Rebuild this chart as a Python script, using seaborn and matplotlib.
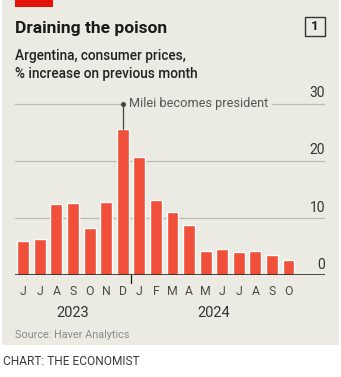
import matplotlib
matplotlib.use("Agg")
import matplotlib.pyplot as plt
import seaborn as sns
import pandas as pd
from matplotlib.patches import Rectangle

# Argentina, monthly consumer-price inflation, June 2023 - October 2024
months = ["J", "J", "A", "S", "O", "N", "D", "J", "F", "M", "A", "M", "J", "J", "A", "S", "O"]
inflation = [6.0, 6.3, 12.4, 12.7, 8.3, 12.8, 25.5, 20.6, 13.2, 11.0, 8.8, 4.2, 4.6, 4.0, 4.2, 3.5, 2.7]
years = ["2023", "2024"]
year_positions = [3, 11.5]
year_break = 6.5
y_ticks = [0, 10, 20, 30]
event_label = "Milei becomes president"
event_index = 6

W, H = 341, 377
BG = "#ECEBE3"
RED = "#F0503A"
GRID = "#BCBCB4"
INK = "#1A1A1A"
LABEL = "#4A4A4A"

sns.set_theme(style="white")
plt.rcParams["font.family"] = ["Roboto", "DejaVu Sans"]


def fx(px):
    return px / W


def fy(py):
    return 1 - py / H


fig = plt.figure(figsize=(W / 100, H / 100), dpi=100)
fig.patch.set_facecolor("white")

# beige panel and red flag
fig.patches.append(Rectangle((fx(2), fy(345)), fx(337), 345 / H, transform=fig.transFigure,
                             facecolor=BG, edgecolor="none", zorder=-10))
fig.patches.append(Rectangle((fx(15), fy(7)), fx(37.5), 7 / H, transform=fig.transFigure,
                             facecolor="#E3120B", edgecolor="none", zorder=-5))

# chart number box
fig.patches.append(Rectangle((fx(304.5), fy(36)), fx(20.5), 18.5 / H, transform=fig.transFigure,
                             facecolor="none", edgecolor="#333333", lw=1.0, zorder=2))
fig.text(fx(314.8), fy(27), "1", ha="center", va="center", fontsize=9.5,
         fontweight="bold", color=INK)

fig.text(fx(15), fy(28), "Draining the poison", ha="left", va="center",
         fontsize=12.5, fontweight="bold", color=INK)
fig.text(fx(15), fy(56), "Argentina, consumer prices,", ha="left", va="center",
         fontsize=9.8, fontweight="medium", color="#222222")
fig.text(fx(15), fy(74), "% increase on previous month", ha="left", va="center",
         fontsize=9.8, fontweight="medium", color="#222222")

# plot area
px_per_unit = 5.72
ymax = 31
ax = fig.add_axes([fx(15), fy(275.3), fx(310), ymax * px_per_unit / H])
ax.set_facecolor("none")

df = pd.DataFrame({"pos": range(len(inflation)), "value": inflation})
sns.barplot(data=df, x="pos", y="value", color=RED, saturation=1, width=0.72,
            ax=ax, zorder=3)

xmax = 18.2
ax.set_xlim(-0.5, xmax)
ax.set_ylim(0, ymax)
for s in ax.spines.values():
    s.set_visible(False)
ax.set_xlabel("")
ax.set_ylabel("")
ax.set_yticks([])

# gridlines with labels above them at the right
for v in y_ticks[1:]:
    ax.axhline(v, color=GRID, lw=0.9, zorder=1)
for v in y_ticks:
    ax.text(xmax, v + 0.6, str(v), ha="right", va="bottom", fontsize=10, color="#333333")
ax.axhline(0, color=INK, lw=1.1, zorder=4)

# month labels at bar centres, ticks at bar boundaries
ax.set_xticks(range(len(months)))
ax.set_xticklabels(months, fontsize=8.8, color=LABEL)
ax.set_xticks([i - 0.5 for i in range(len(months) + 1)], minor=True)
ax.tick_params(axis="x", which="major", length=0, pad=7)
ax.tick_params(axis="x", which="minor", length=3.6, width=0.9, color=INK, direction="out")
ax.plot([year_break, year_break], [0, -8 / px_per_unit], color=INK, lw=0.9,
        clip_on=False, zorder=4)

for label, pos in zip(years, year_positions):
    ax.text(pos, -38 / px_per_unit, label, ha="center", va="center", fontsize=10.5,
            color="#333333")

# event annotation
ev = inflation[event_index]
ax.plot([event_index, event_index], [ev, 30], color="#444444", lw=0.9, zorder=5)
ax.plot([event_index], [30], marker="o", ms=2.6, color="#444444", zorder=5)
ax.text(event_index + 0.4, 30, event_label, ha="left", va="center", fontsize=9.2,
        color="#555555", zorder=6,
        bbox=dict(boxstyle="square,pad=0.25", facecolor=BG, edgecolor="none"))

fig.text(fx(15), fy(335), "Source: Haver Analytics", ha="left", va="center",
         fontsize=7.8, color="#8A8A8A")
fig.text(fx(3), fy(361.5), "CHART: THE ECONOMIST", ha="left", va="center",
         fontsize=8.6, color="#3A3A3A")

fig.savefig("out.png", dpi=100, facecolor="white")
